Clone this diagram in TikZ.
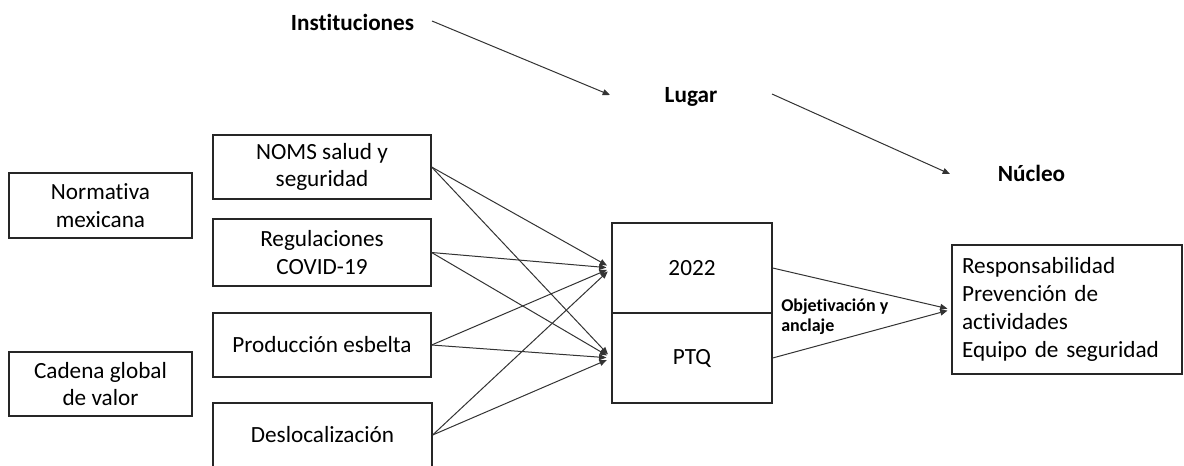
\documentclass[tikz,border=0pt]{standalone}
\usepackage{fontspec}
\setmainfont{Carlito}[Ligatures={NoCommon}]
\usetikzlibrary{arrows.meta}
\begin{document}
\begin{tikzpicture}[x=0.75pt,y=-0.75pt,
  txt/.style={font=\fontsize{17.4pt}{20.8pt}\selectfont, text=black},
  box/.style={txt, draw=black!85, line width=0.9pt, align=center, inner sep=0pt},
  head/.style={font=\fontsize{17.4pt}{20.8pt}\selectfont\bfseries, inner sep=0pt},
  link/.style={draw=black!80, line width=0.75pt, -{Triangle[length=5.5pt,width=4.5pt]}},
  flow/.style={link, shorten >=3.75pt},
]
\useasboundingbox (0,0) rectangle (1184,465);

% context boxes
\node[box, minimum width=137.25pt, minimum height=48.75pt] (norm) at (100.5,205.5) {Normativa\\mexicana};
\node[box, minimum width=137.25pt, minimum height=48pt] (cadena) at (100.5,384) {Cadena global\\de valor};

% influencing factors
\node[box, minimum width=163.5pt, minimum height=48pt] (noms) at (322,167) {NOMS salud y\\seguridad};
\node[box, minimum width=163.5pt, minimum height=50.25pt] (regul) at (322,252.5) {Regulaciones\\COVID-19};
\node[box, minimum width=163.5pt, minimum height=48pt] (prod) at (322,345) {Producción esbelta};
\node[box, minimum width=164.25pt, minimum height=48pt] (desloc) at (322.5,435) {Deslocalización};

% central split box
\node[box, minimum width=120pt, minimum height=67.5pt] (y2022) at (692,268) {2022};
\node[box, minimum width=120pt, minimum height=67.5pt] (ptq) at (692,358) {PTQ};

% core box
\node[box, align=left, text width=157.5pt, minimum height=96.75pt, inner xsep=7.5pt] (core) at (1067,309.5)
  {Responsabilidad\\Prevención de\\actividades\\Equipo de seguridad};

% level headings
\node[head] (inst) at (352.5,22) {Instituciones};
\node[head] (lugar) at (691,97) {Lugar};
\node[head] (nucleo) at (1031.5,173) {Núcleo};

\coordinate (i1) at (432,21);
\coordinate (i2) at (610,95);
\coordinate (l1) at (772,94);
\coordinate (l2) at (950,174);
\draw[link] (i1) -- (i2);
\draw[link] (l1) -- (l2);

% factor links
\foreach \src in {noms,regul,prod,desloc}{
  \draw[flow] (\src.east) -- (y2022.west);
  \draw[flow] (\src.east) -- (ptq.west);
}

% toward the core
\draw[link, shorten >=3pt] (y2022.east) -- (core.west);
\draw[link, shorten >=3pt] (ptq.east) -- (core.west);
\node[font=\fontsize{13.5pt}{15pt}\selectfont\bfseries, align=left, anchor=west, inner sep=0pt] (obj) at (781,317)
  {Objetivación y\\anclaje};
\end{tikzpicture}
\end{document}
